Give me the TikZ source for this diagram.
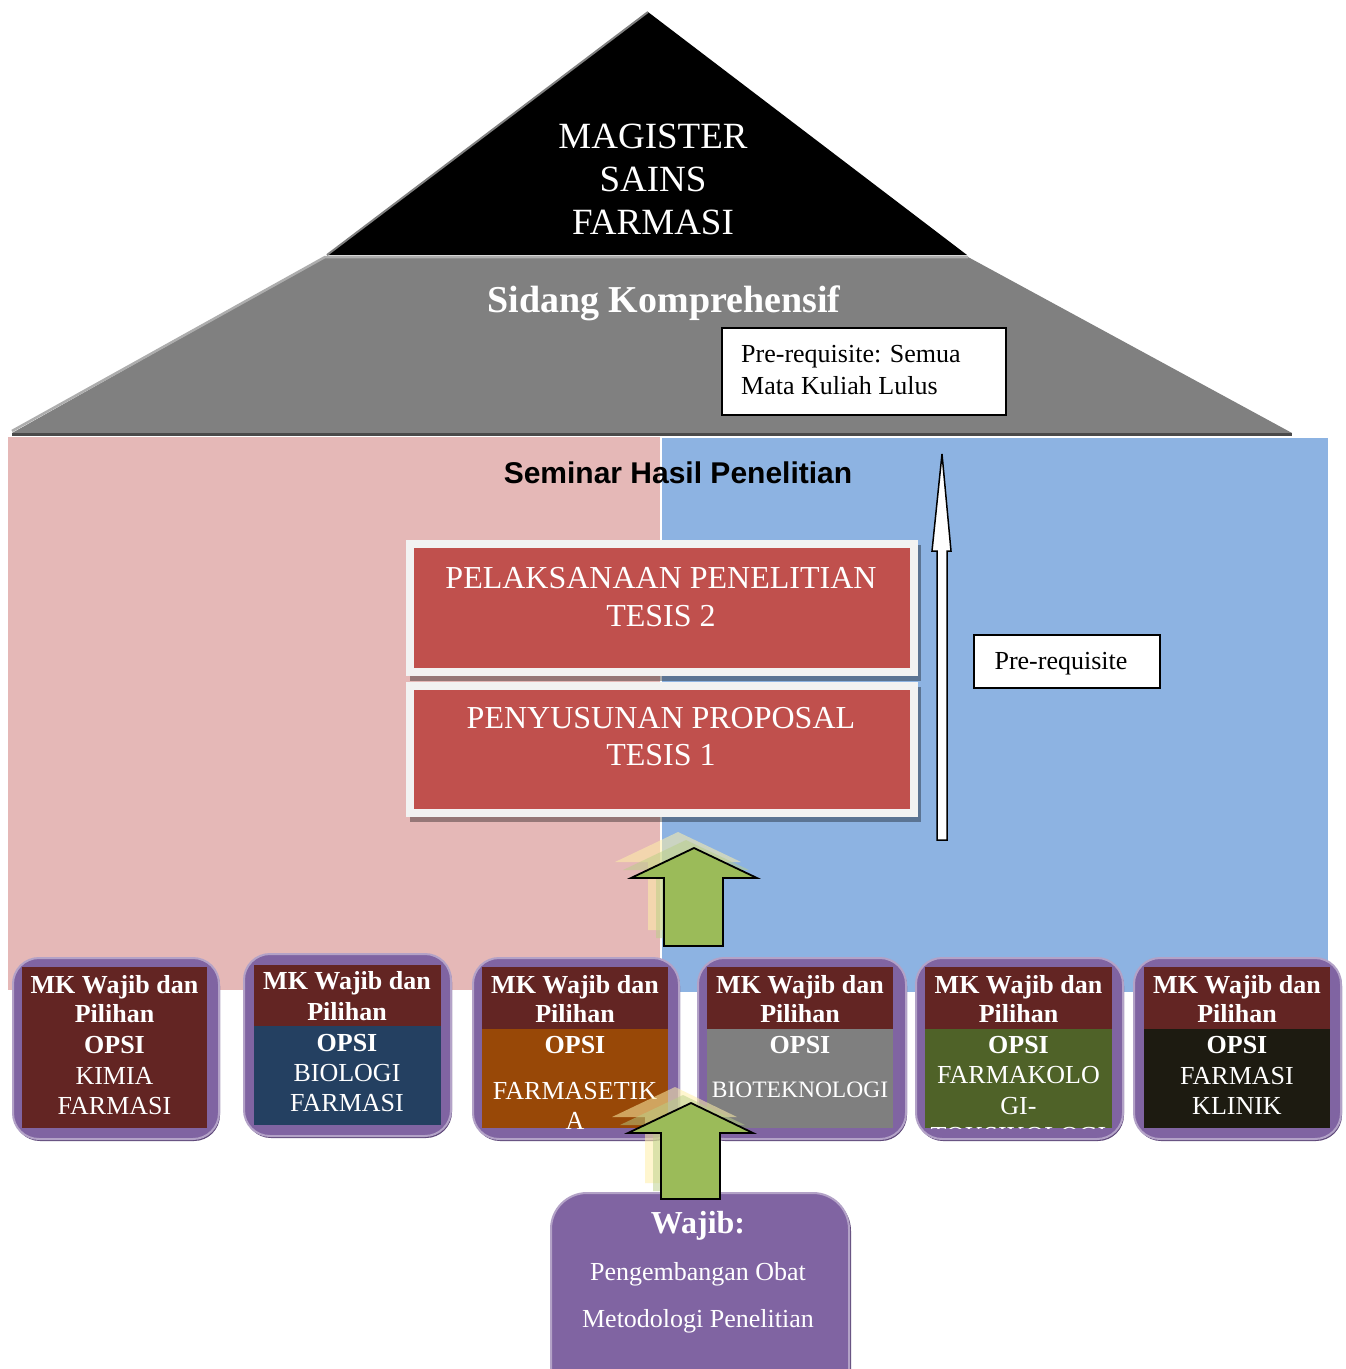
\documentclass[tikz,border=0pt]{standalone}
\usepackage{fontspec}
\setmainfont{Liberation Serif}
\newfontfamily\sansb{Liberation Sans}
\newcommand\fsz[2]{\fontsize{#1}{#2}\selectfont}
\definecolor{pinkc}{HTML}{E5B8B7}
\definecolor{bluec}{HTML}{8DB3E2}
\definecolor{redbox}{HTML}{C0504D}
\definecolor{framec}{HTML}{F2F2F2}
\definecolor{roofgray}{HTML}{808080}
\definecolor{rooflight}{HTML}{ADADAD}
\definecolor{roofdark}{HTML}{4A4A4A}
\definecolor{purp}{HTML}{8064A2}
\definecolor{purpl}{HTML}{B3A2C7}
\definecolor{purpd}{HTML}{5F497A}
\definecolor{hdr}{HTML}{632523}
\definecolor{navy}{HTML}{244061}
\definecolor{orng}{HTML}{984807}
\definecolor{gbox}{HTML}{7F7F7F}
\definecolor{grn}{HTML}{4F6228}
\definecolor{blk}{HTML}{1D1B11}
\definecolor{agreen}{HTML}{9BBB59}
\definecolor{ghosta}{HTML}{FFF0A8}
\definecolor{ghostb}{HTML}{B9CF86}
\begin{document}
\begin{tikzpicture}[x=1pt,y=-1pt,
  wt/.style={inner sep=0pt, text=white, anchor=base},
  bt/.style={inner sep=0pt, text=black, anchor=base},
  hb/.style={wt, font=\bfseries\fsz{26}{30}},
  hr/.style={wt, font=\fsz{26}{30}},
  obox/.style={fill=purp, draw=purpl, line width=2pt, rounded corners=26pt},
  tbox/.style={fill=redbox, draw=framec, line width=8pt, inner sep=0pt},
  wbox/.style={fill=white, draw=black, line width=1.5pt, inner sep=0pt},
  garrow/.style={fill=agreen, draw=black, line width=1.8pt, line join=miter},
  ghost1/.style={fill=ghosta, opacity=0.55},
  ghost2/.style={fill=ghostb, opacity=0.5}]
\clip (0,0) rectangle (1346,1369);
\useasboundingbox (0,0) rectangle (1346,1369);
\fill[white] (0,0) rectangle (1346,1369);

% ---------- roof ----------
\fill[roofgray] (325,257) -- (968,257) -- (1292,433) -- (12,433) -- cycle;
\draw[roofdark, line width=3pt] (12,434) -- (1292,434);
\draw[rooflight, line width=2.5pt] (12,431) -- (325,257) -- (968,257);
\fill[black] (648,12) -- (967,255) -- (327,255) -- cycle;
\draw[gray, line width=2pt] (327,255) -- (648,12);

\node[wt, font=\fsz{37}{43}] (mag1) at (653,148) {MAGISTER};
\node[wt, font=\fsz{37}{43}] (mag2) at (653,191) {SAINS};
\node[wt, font=\fsz{37}{43}] (mag3) at (653,234) {FARMASI};
\node[wt, font=\bfseries\fsz{38}{44}] (sidang) at (664,312) {Sidang Komprehensif};

\node[wbox, minimum width=284pt, minimum height=87pt, anchor=north west] (pqa) at (721,327) {};
\node[bt, anchor=base west, font=\fsz{26}{32}] (pqa1) at (741,362) {Pre-requisite: Semua};
\node[bt, anchor=base west, font=\fsz{26}{32}] (pqa2) at (741,394) {Mata Kuliah Lulus};

% ---------- house body ----------
\fill[pinkc] (8,437) rectangle (660,990);
\fill[bluec] (662,438) rectangle (1328,992);

\node[bt, font=\sansb\bfseries\fsz{30}{35}] (sem) at (678,483) {Seminar Hasil Penelitian};

% research boxes
\fill[black, opacity=0.35] (410,545) rectangle (921,681);
\node[tbox, minimum width=504pt, minimum height=128pt] (t2) at (661.5,608) {};
\node[wt, font=\fsz{32}{38}] (t2a) at (661,588) {PELAKSANAAN PENELITIAN};
\node[wt, font=\fsz{32}{38}] (t2b) at (661,626) {TESIS 2};

\fill[black, opacity=0.35] (410,687) rectangle (921,822);
\node[tbox, minimum width=504pt, minimum height=127pt] (t1) at (661.5,749.5) {};
\node[wt, font=\fsz{32}{38}] (t1a) at (661,728) {PENYUSUNAN PROPOSAL};
\node[wt, font=\fsz{32}{38}] (t1b) at (661,765) {TESIS 1};

% thin prerequisite arrow
\draw[fill=white, line width=1.5pt, line join=miter] (937,840) -- (937,551) -- (932,551) -- (942,454) -- (951,551) -- (947,551) -- (947,840) -- cycle;
\node[wbox, minimum width=186pt, minimum height=53pt, anchor=north west] (pqb) at (973,634) {};
\node[bt, font=\fsz{26}{32}] (pqbt) at (1061,669) {Pre-requisite};

% green arrow 1 with ghosts
\foreach \dx/\st in {-16/ghost1,-8/ghost2}{
  \fill[\st, shift={(\dx,\dx)}] (664,946) -- (664,878) -- (631,878) -- (694,848) -- (757,878) -- (723,878) -- (723,946) -- cycle;
}
\draw[garrow] (664,946) -- (664,878) -- (631,878) -- (694,848) -- (757,878) -- (723,878) -- (723,946) -- cycle;

% ---------- option boxes ----------
% box 1
\fill[purpd, rounded corners=26pt] (14,960) rectangle (220,1141);
\node[obox, minimum width=206pt, minimum height=181pt, anchor=north west] (b1) at (12,957) {};
\fill[hdr] (22,967) rectangle (207,1128);
\begin{scope}
\clip (22,967) rectangle (207,1128);
\node[hb] (b1a) at (114.5,993) {MK Wajib dan};
\node[hb] (b1b) at (114.5,1022) {Pilihan};
\node[hb] (b1c) at (114.5,1053) {OPSI};
\node[hr] (b1d) at (114.5,1084) {KIMIA};
\node[hr] (b1e) at (114.5,1114) {FARMASI};
\end{scope}

% box 2
\fill[purpd, rounded corners=26pt] (245,956) rectangle (452,1138);
\node[obox, minimum width=207pt, minimum height=182pt, anchor=north west] (b2) at (243,953) {};
\fill[hdr] (254,965) rectangle (441,1026);
\fill[navy] (254,1026) rectangle (441,1125);
\begin{scope}
\clip (254,965) rectangle (441,1125);
\node[hb] (b2a) at (347,989) {MK Wajib dan};
\node[hb] (b2b) at (347,1020) {Pilihan};
\node[hb] (b2c) at (347,1051) {OPSI};
\node[hr] (b2d) at (347,1081) {BIOLOGI};
\node[hr] (b2e) at (347,1111) {FARMASI};
\end{scope}

% box 3
\fill[purpd, rounded corners=26pt] (474,960) rectangle (680,1141);
\node[obox, minimum width=206pt, minimum height=181pt, anchor=north west] (b3) at (472,957) {};
\fill[hdr] (482,967) rectangle (668,1029);
\fill[orng] (482,1029) rectangle (668,1128);
\begin{scope}
\clip (482,967) rectangle (668,1128);
\node[hb] (b3a) at (575,993) {MK Wajib dan};
\node[hb] (b3b) at (575,1022) {Pilihan};
\node[hb] (b3c) at (575,1053) {OPSI};
\node[hr] (b3d) at (575,1099) {FARMASETIK};
\node[hr] (b3e) at (575,1129) {A};
\end{scope}

% box 4
\fill[purpd, rounded corners=26pt] (699,960) rectangle (907,1141);
\node[obox, minimum width=208pt, minimum height=181pt, anchor=north west] (b4) at (697,957) {};
\fill[hdr] (707,967) rectangle (893,1029);
\fill[gbox] (707,1029) rectangle (893,1128);
\begin{scope}
\clip (707,967) rectangle (893,1128);
\node[hb] (b4a) at (800,993) {MK Wajib dan};
\node[hb] (b4b) at (800,1022) {Pilihan};
\node[hb] (b4c) at (800,1053) {OPSI};
\node[wt, font=\fsz{23.5}{28}] (b4d) at (800,1097) {BIOTEKNOLOGI};
\end{scope}

% box 5
\fill[purpd, rounded corners=26pt] (917,960) rectangle (1124,1141);
\node[obox, minimum width=207pt, minimum height=181pt, anchor=north west] (b5) at (915,957) {};
\fill[hdr] (925,967) rectangle (1112,1029);
\fill[grn] (925,1029) rectangle (1112,1128);
\begin{scope}
\clip (925,967) rectangle (1112,1128);
\node[hb] (b5a) at (1018.5,993) {MK Wajib dan};
\node[hb] (b5b) at (1018.5,1022) {Pilihan};
\node[hb] (b5c) at (1018.5,1053) {OPSI};
\node[hr] (b5d) at (1018.5,1083) {FARMAKOLO};
\node[hr] (b5e) at (1018.5,1114) {GI-};
\node[hr] (b5f) at (1018.5,1144) {TOKSIKOLOGI};
\end{scope}

% box 6
\fill[purpd, rounded corners=26pt] (1135,960) rectangle (1342,1141);
\node[obox, minimum width=207pt, minimum height=181pt, anchor=north west] (b6) at (1133,957) {};
\fill[hdr] (1144,967) rectangle (1330,1029);
\fill[blk] (1144,1029) rectangle (1330,1128);
\begin{scope}
\clip (1144,967) rectangle (1330,1128);
\node[hb] (b6a) at (1237,993) {MK Wajib dan};
\node[hb] (b6b) at (1237,1022) {Pilihan};
\node[hb] (b6c) at (1237,1053) {OPSI};
\node[hr] (b6d) at (1237,1084) {FARMASI};
\node[hr] (b6e) at (1237,1114) {KLINIK};
\end{scope}

% ---------- Wajib box ----------
\fill[purpd, rounded corners=36pt] (552,1195) rectangle (851,1420);
\node[obox, rounded corners=36pt, minimum width=298pt, minimum height=228pt, anchor=north west] (wj) at (550,1192) {};
\node[wt, font=\bfseries\fsz{32}{38}] (wja) at (698,1233) {Wajib:};
\node[hr] (wjb) at (698,1280) {Pengembangan Obat};
\node[hr] (wjc) at (698,1327) {Metodologi Penelitian};

% green arrow 2 with ghosts
\foreach \dx/\st in {-16/ghost1,-8/ghost2}{
  \fill[\st, shift={(\dx,\dx)}] (661,1199) -- (661,1133) -- (628,1133) -- (691,1103) -- (753,1133) -- (720,1133) -- (720,1199) -- cycle;
}
\draw[garrow] (661,1199) -- (661,1133) -- (628,1133) -- (691,1103) -- (753,1133) -- (720,1133) -- (720,1199) -- cycle;
\end{tikzpicture}
\end{document}
